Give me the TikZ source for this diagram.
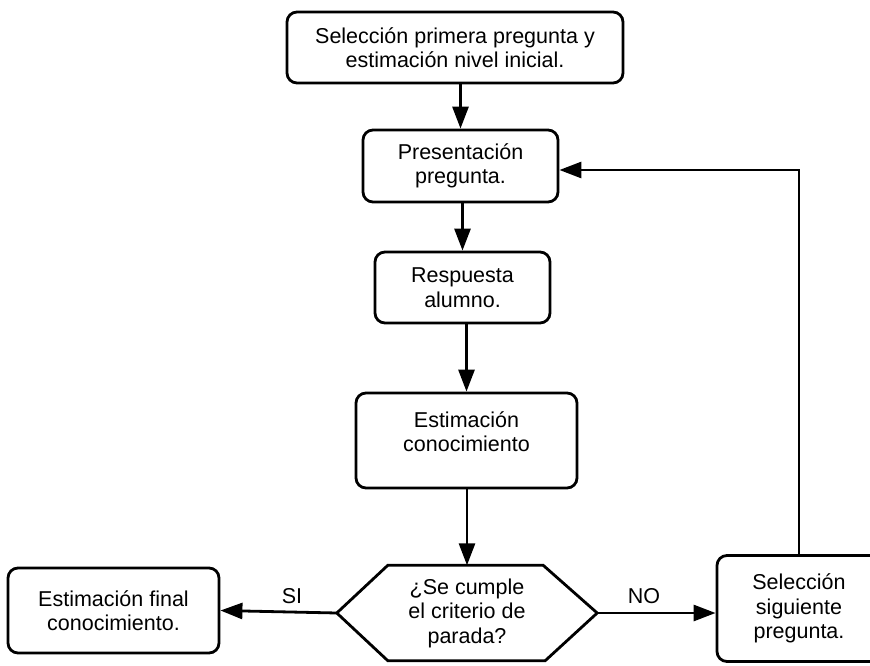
\documentclass[tikz,border=0pt]{standalone}
\usepackage{fontspec}
\setmainfont{Liberation Sans}
\usetikzlibrary{arrows.meta}
\begin{document}
\begin{tikzpicture}[x=1pt,y=-1pt,
  txt/.style={font=\fontsize{21.5}{24.5}\selectfont},
  box/.style={draw,line width=2.8pt,rounded corners=10pt,align=center,inner sep=0pt,txt},
  arr/.style={line width=2.8pt,-{Triangle[length=22pt,width=16pt]}}]
\useasboundingbox (0,0) rectangle (870,666);
\clip (0,0) rectangle (870,666);
\node[box,minimum width=336pt,minimum height=71pt] (top) at (455,47.5) {Selección primera pregunta y\\estimación nivel inicial.};
\node[box,minimum width=195pt,minimum height=72pt] (pres) at (460.5,166) {Presentación\\pregunta.};
\node[box,minimum width=175pt,minimum height=71pt] (resp) at (462.5,287.5) {Respuesta\\alumno.};
\node[box,minimum width=221pt,minimum height=95pt] (est) at (466.5,440.5) {};
\node[txt,align=center,inner sep=0pt] (estt) at (466.5,431.5) {Estimación\\conocimiento};
\node[inner sep=0pt,minimum width=260pt,minimum height=95pt,align=center,txt] (dec) at (467,613) {¿Se cumple\\el criterio de\\parada?};
\draw[line width=2.8pt,line join=miter] (dec.west) -- ([xshift=51pt]dec.north west) -- ([xshift=-54pt]dec.north east)
  -- (dec.east) -- ([xshift=-52pt]dec.south east) -- ([xshift=51pt]dec.south west) -- cycle;
\node[box,minimum width=211pt,minimum height=85pt] (fin) at (113.5,610.5) {Estimación final\\conocimiento.};
\node[box,minimum width=164pt,minimum height=106pt] (sig) at (799,608.5) {Selección\\siguiente\\pregunta.};
\coordinate (up) at (799,170);
\draw[arr] (top.south -| pres.north) -- (pres.north);
\draw[arr] (pres.south -| resp.north) -- (resp.north);
\draw[arr] (resp.south -| est.north) -- (est.north);
\draw[arr] (est.south -| dec.north) -- (dec.north);
\draw[arr] (dec.west) -- (fin.east);
\draw[arr] (dec.east) -- (sig.west |- dec.east);
\draw[arr] (sig.north) -- (up) -- (pres.east |- up);
\node[txt] (si) at (292,596) {SI};
\node[txt] (no) at (644,596) {NO};
\end{tikzpicture}
\end{document}
